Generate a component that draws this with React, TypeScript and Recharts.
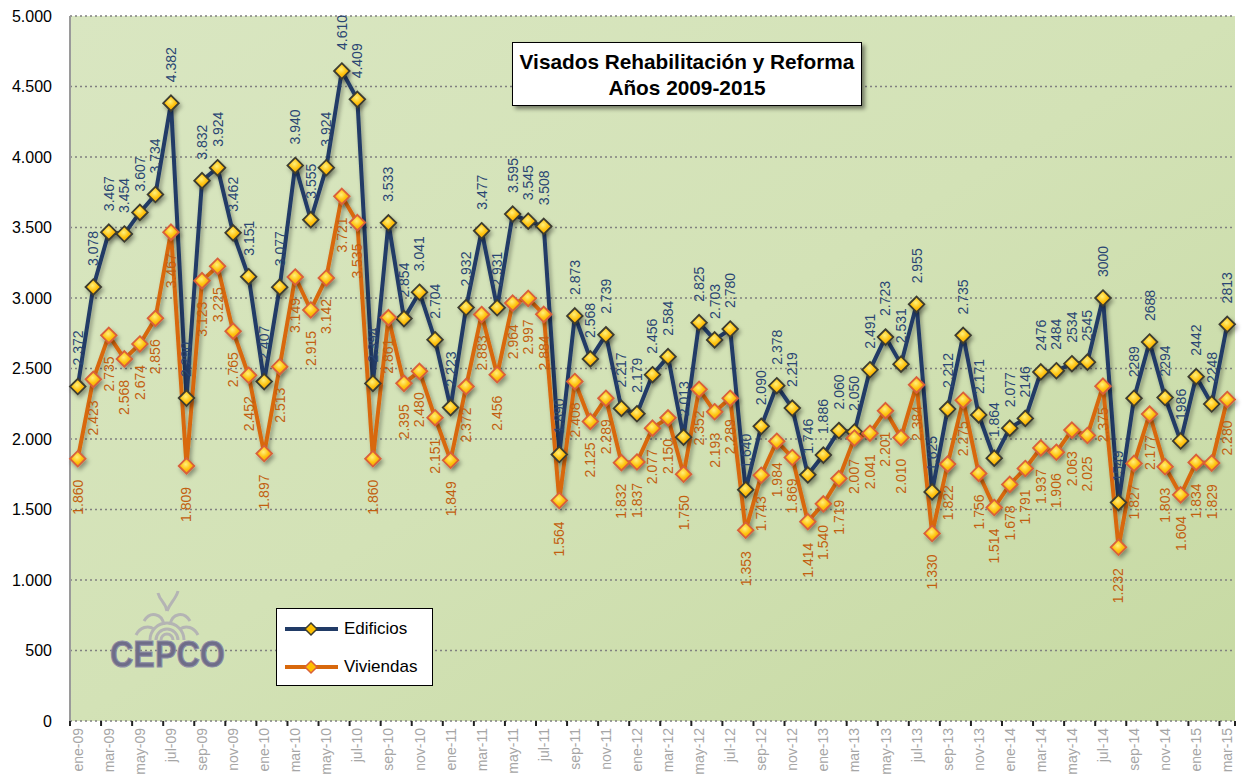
import { CartesianGrid, LabelList, Legend, Line, LineChart, XAxis, YAxis } from "recharts";

const months = [
  "ene-09", "feb-09", "mar-09", "abr-09", "may-09", "jun-09", "jul-09", "ago-09", "sep-09", "oct-09", "nov-09", "dic-09",
  "ene-10", "feb-10", "mar-10", "abr-10", "may-10", "jun-10", "jul-10", "ago-10", "sep-10", "oct-10", "nov-10", "dic-10",
  "ene-11", "feb-11", "mar-11", "abr-11", "may-11", "jun-11", "jul-11", "ago-11", "sep-11", "oct-11", "nov-11", "dic-11",
  "ene-12", "feb-12", "mar-12", "abr-12", "may-12", "jun-12", "jul-12", "ago-12", "sep-12", "oct-12", "nov-12", "dic-12",
  "ene-13", "feb-13", "mar-13", "abr-13", "may-13", "jun-13", "jul-13", "ago-13", "sep-13", "oct-13", "nov-13", "dic-13",
  "ene-14", "feb-14", "mar-14", "abr-14", "may-14", "jun-14", "jul-14", "ago-14", "sep-14", "oct-14", "nov-14", "dic-14",
  "ene-15", "feb-15", "mar-15",
];

const edificios = [
  2372, 3078, 3467, 3454, 3607, 3734, 4382, 2290, 3832, 3924, 3462, 3151,
  2407, 3077, 3940, 3555, 3924, 4610, 4409, 2394, 3533, 2854, 3041, 2704,
  2223, 2932, 3477, 2931, 3595, 3545, 3508, 1890, 2873, 2568, 2739, 2217,
  2179, 2456, 2584, 2013, 2825, 2703, 2780, 1640, 2090, 2378, 2219, 1746,
  1886, 2060, 2050, 2491, 2723, 2531, 2955, 1625, 2212, 2735, 2171, 1864,
  2077, 2146, 2476, 2484, 2534, 2545, 3000, 1549, 2289, 2688, 2294, 1986,
  2442, 2248, 2813,
];

const viviendas = [
  1860, 2423, 2735, 2568, 2674, 2856, 3467, 1809, 3123, 3225, 2765, 2452,
  1897, 2513, 3149, 2915, 3142, 3721, 3535, 1860, 2861, 2395, 2480, 2151,
  1849, 2372, 2883, 2456, 2964, 2997, 2884, 1564, 2408, 2125, 2289, 1832,
  1837, 2077, 2150, 1750, 2352, 2193, 2289, 1353, 1743, 1984, 1869, 1414,
  1540, 1719, 2007, 2041, 2201, 2010, 2384, 1330, 1822, 2275, 1756, 1514,
  1678, 1791, 1937, 1906, 2063, 2025, 2375, 1232, 1827, 2177, 1803, 1604,
  1834, 1829, 2280,
];

// from feb-14 on the source prints the edificios labels without thousands dot
const edificiosPlainFrom = 61;

const yTicks = [0, 500, 1000, 1500, 2000, 2500, 3000, 3500, 4000, 4500, 5000];

const FONT = '"Liberation Sans", Arial, sans-serif';
const NAVY = "#213b66";
const ORANGE = "#d8680c";
const NAVY_TEXT = "#2a4673";
const ORANGE_TEXT = "#c25f10";

const W = 1245;
const H = 780;
const PLOT_LEFT = 70;
const PLOT_RIGHT = 1235;
const BAND = (PLOT_RIGHT - PLOT_LEFT) / months.length;

const fmt = (v: number) =>
  v >= 1000 ? `${Math.floor(v / 1000)}.${String(v % 1000).padStart(3, "0")}` : String(v);

const data = months.map((mes, i) => ({
  mes,
  edificios: edificios[i],
  viviendas: viviendas[i],
  edificiosLabel: i >= edificiosPlainFrom ? String(edificios[i]) : fmt(edificios[i]),
  viviendasLabel: fmt(viviendas[i]),
}));

const diamondPath = (cx: number, cy: number, r: number) =>
  `M${cx},${cy - r}L${cx + r},${cy}L${cx},${cy + r}L${cx - r},${cy}Z`;

function diamondDot(stroke: string) {
  return (p: any) => {
    const { cx, cy, index } = p;
    if (cx == null || cy == null) return <g key={`d-${index}`} />;
    return (
      <path
        key={`d-${index}`}
        d={diamondPath(cx, cy, 7.8)}
        fill="url(#dotFill)"
        stroke={stroke}
        strokeWidth={1.8}
      />
    );
  };
}

function rotatedLabel(color: string, above: boolean) {
  return (props: any) => {
    const x = props.x ?? props.viewBox?.x;
    const y = props.y ?? props.viewBox?.y;
    if (x == null || y == null) return null;
    const ay = above ? y - 21 : y + 21;
    return (
      <text
        x={x}
        y={ay}
        transform={`rotate(-90 ${x} ${ay})`}
        textAnchor={above ? "start" : "end"}
        dominantBaseline="central"
        fill={color}
        fontSize={14}
        fontFamily={FONT}
      >
        {props.value}
      </text>
    );
  };
}

function MonthTick(props: any) {
  const { x, y, payload, index } = props;
  const last = payload.value === months[months.length - 1];
  return (
    <g>
      <line x1={x - BAND / 2} x2={x - BAND / 2} y1={y} y2={y + 5} stroke="#222" strokeWidth={2} />
      {last && (
        <line x1={x + BAND / 2} x2={x + BAND / 2} y1={y} y2={y + 5} stroke="#222" strokeWidth={2} />
      )}
      <text
        key={index}
        x={x}
        y={y + 7}
        transform={`rotate(-90 ${x} ${y + 7})`}
        textAnchor="end"
        dominantBaseline="central"
        fill="#a6a6a6"
        fontSize={14}
        fontFamily={FONT}
      >
        {payload.value}
      </text>
    </g>
  );
}

const legendItems = [
  { name: "Edificios", color: NAVY, edge: "#3c3c30" },
  { name: "Viviendas", color: ORANGE, edge: "#d9603a" },
];

function LegendBox() {
  return (
    <div
      style={{
        position: "relative",
        width: 157,
        height: 78,
        boxSizing: "border-box",
        border: "1.5px solid #000",
        background: "#fff",
        fontFamily: FONT,
        fontSize: 17,
        color: "#000",
      }}
    >
      {legendItems.map((it, i) => (
        <div
          key={it.name}
          style={{
            position: "absolute",
            left: 7,
            top: i === 0 ? 9 : 47,
            height: 22,
            display: "flex",
            alignItems: "center",
          }}
        >
          <svg width={56} height={16}>
            <line x1={1} x2={54} y1={8} y2={8} stroke={it.color} strokeWidth={4} />
            <path d={diamondPath(27, 8, 6)} fill="#ffc000" stroke={it.edge} strokeWidth={1.5} />
          </svg>
          <span style={{ marginLeft: 4 }}>{it.name}</span>
        </div>
      ))}
    </div>
  );
}

function Logo() {
  return (
    <svg
      width={140}
      height={90}
      style={{ position: "absolute", left: 100, top: 585 }}
    >
      <g fill="none" stroke="#b4b4b4" strokeWidth={3}>
        <path d="M50,55 A17,17 0 0 1 84,55" />
        <path d="M56,55 A11,11 0 0 1 78,55" />
        <path d="M61,55 A6,6 0 0 1 73,55" />
        <path d="M44,36 C50,26 62,28 64,40" />
        <path d="M90,36 C84,26 72,28 70,40" />
        <path d="M58,8 C60,16 66,18 67,26" />
        <path d="M78,6 C76,14 70,18 67,26" />
        <path d="M36,50 C40,42 48,40 54,44" />
        <path d="M98,50 C94,42 86,40 80,44" />
      </g>
      <text
        x={10}
        y={82}
        fontFamily={FONT}
        fontWeight={900}
        fontSize={36}
        fill="#6e6d88"
        stroke="#8e8da6"
        strokeWidth={1}
        textLength={115}
        lengthAdjust="spacingAndGlyphs"
      >
        CEPCO
      </text>
    </svg>
  );
}

export default function App() {
  return (
    <div style={{ position: "absolute", left: 0, top: 0, width: W, height: H, background: "#fff" }}>
      <style>{`
        .recharts-line-curve { filter: url(#lineShadow); }
        .recharts-line-dots { filter: url(#lineShadow); }
        .recharts-xAxis .recharts-cartesian-axis-line { filter: url(#axisShadow); }
      `}</style>
      <LineChart
        width={W}
        height={H}
        data={data}
        margin={{ top: 16, right: W - PLOT_RIGHT, bottom: 0, left: 0 }}
      >
        <defs>
          <linearGradient id="plotBg" x1="0" y1="0" x2="1" y2="1">
            <stop offset="0%" stopColor="#d9e6c1" />
            <stop offset="50%" stopColor="#d3e2b6" />
            <stop offset="100%" stopColor="#c6d9a2" />
          </linearGradient>
          <radialGradient id="dotFill" cx="45%" cy="40%" r="60%">
            <stop offset="0%" stopColor="#fff07a" />
            <stop offset="55%" stopColor="#ffc20e" />
            <stop offset="100%" stopColor="#f29d00" />
          </radialGradient>
          <filter id="lineShadow" x="-10%" y="-10%" width="130%" height="130%">
            <feDropShadow dx="2" dy="3" stdDeviation="2" floodColor="#000" floodOpacity="0.35" />
          </filter>
          <filter id="axisShadow" x="-5%" y="-200%" width="110%" height="600%">
            <feDropShadow dx="0" dy="3" stdDeviation="2.5" floodColor="#000" floodOpacity="0.45" />
          </filter>
        </defs>
        <CartesianGrid
          vertical={false}
          fill="url(#plotBg)"
          stroke="#808080"
          strokeWidth={1.3}
          strokeDasharray="2 3"
        />
        <XAxis
          dataKey="mes"
          interval={1}
          height={H - 721}
          padding={{ left: BAND / 2, right: BAND / 2 }}
          axisLine={{ stroke: "#222", strokeWidth: 2 }}
          tickLine={false}
          tickSize={0}
          tickMargin={0}
          tick={<MonthTick />}
        />
        <YAxis
          width={PLOT_LEFT}
          domain={[0, 5000]}
          ticks={yTicks}
          interval={0}
          tickFormatter={fmt}
          axisLine={{ stroke: "#9a9a9a", strokeWidth: 2 }}
          tickLine={false}
          tickMargin={12}
          tick={{ fill: "#000", fontSize: 16, fontFamily: FONT }}
        />
        <Line
          dataKey="edificios"
          name="Edificios"
          stroke={NAVY}
          strokeWidth={4}
          dot={diamondDot("#3c3c30")}
          activeDot={false}
          isAnimationActive={false}
        >
          <LabelList dataKey="edificiosLabel" content={rotatedLabel(NAVY_TEXT, true)} />
        </Line>
        <Line
          dataKey="viviendas"
          name="Viviendas"
          stroke={ORANGE}
          strokeWidth={4}
          dot={diamondDot("#d9603a")}
          activeDot={false}
          isAnimationActive={false}
        >
          <LabelList dataKey="viviendasLabel" content={rotatedLabel(ORANGE_TEXT, false)} />
        </Line>
        <Legend
          layout="horizontal"
          verticalAlign="middle"
          align="center"
          wrapperStyle={{ left: 276, top: 608, width: 157, height: 78 }}
          content={() => <LegendBox />}
        />
      </LineChart>
      <div
        style={{
          position: "absolute",
          left: 512,
          top: 42,
          width: 350,
          height: 64,
          boxSizing: "border-box",
          border: "1.5px solid #000",
          background: "#fff",
          boxShadow: "3px 3px 4px rgba(0,0,0,0.45)",
          fontFamily: FONT,
          fontWeight: 700,
          fontSize: 20.8,
          lineHeight: "26px",
          textAlign: "center",
          paddingTop: 6,
          color: "#000",
        }}
      >
        <div>Visados Rehabilitación y Reforma</div>
        <div>Años 2009-2015</div>
      </div>
      <Logo />
    </div>
  );
}
